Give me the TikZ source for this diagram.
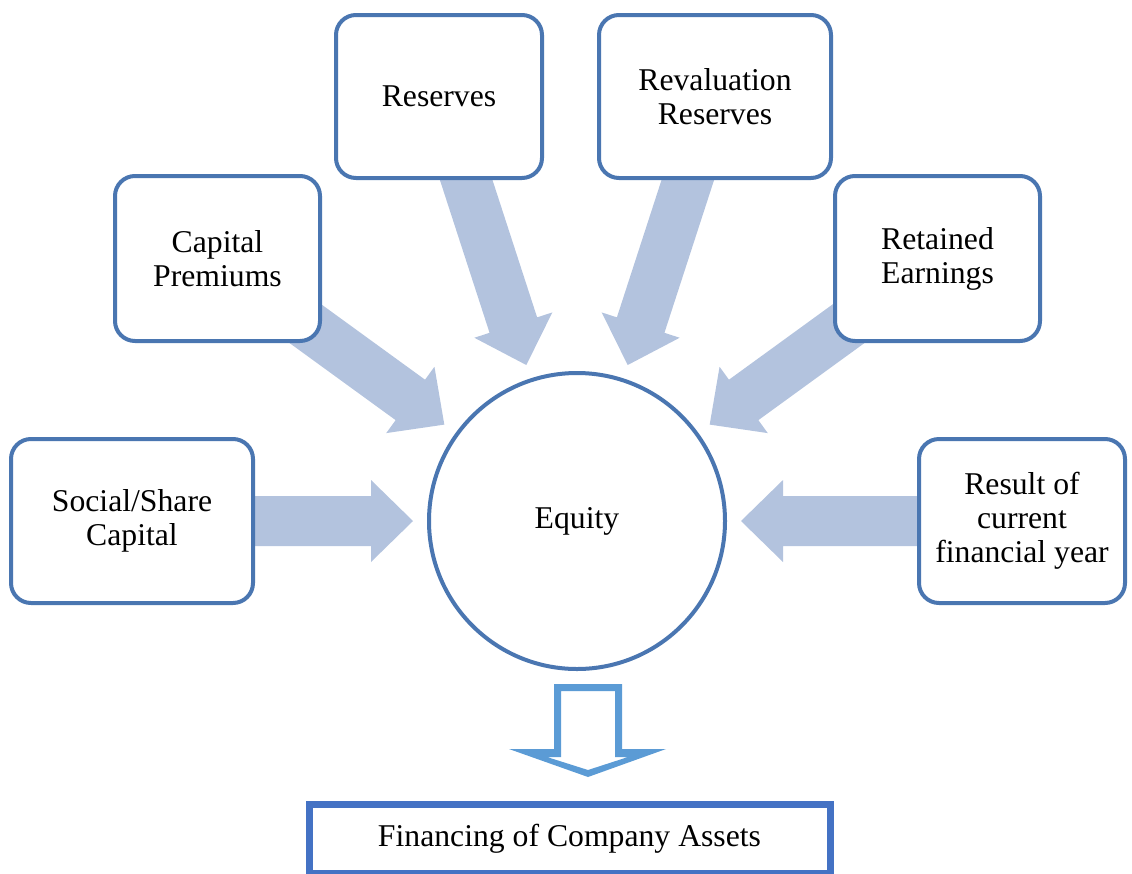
\documentclass[tikz,border=0pt]{standalone}
\usepackage{fontspec}
\setmainfont{Liberation Serif}
\definecolor{boxblue}{HTML}{4A76B1}
\definecolor{arrowfill}{HTML}{B3C3DE}
\definecolor{outblue}{HTML}{5B9BD5}
\definecolor{finblue}{HTML}{4472C4}
\tikzset{
  txt/.style={font=\fontsize{31.7}{34}\selectfont, align=center, inner sep=0pt},
  card/.style={txt, draw=boxblue, line width=4pt, fill=white, rounded corners=20pt},
  hub/.style={txt, circle, draw=boxblue, line width=4pt, fill=white, minimum size=296pt},
  finbox/.style={txt, draw=finblue, line width=7pt, fill=white},
  feed/.style={fill=arrowfill},
  outarrow/.style={fill=outblue, even odd rule}
}
\newcommand{\radarrow}[1]{%
  \fill[feed, shift={(ctr)}, rotate=#1] (164,0) -- (206,41) -- (206,25) -- (385,25)
    -- (385,-25) -- (206,-25) -- (206,-41) -- cycle;}
\begin{document}
\begin{tikzpicture}[x=1pt, y=1pt]
  \useasboundingbox (0,0) rectangle (1132,-873);
  \begin{scope}
  \clip (0,0) rectangle (1132,-873);
  \coordinate (ctr) at (577,-521);
  % feeding block arrows
  \radarrow{180}
  \radarrow{144}
  \radarrow{108}
  \radarrow{72}
  \radarrow{36}
  \radarrow{0}
  % boxes
  \node[card, minimum width=242pt, minimum height=164pt] (soc) at (132,-521) {Social/Share\\Capital};
  \node[card, minimum width=205pt, minimum height=165pt] (prem) at (217.5,-258.5) {Capital\\Premiums};
  \node[card, minimum width=206pt, minimum height=163pt] (res) at (439,-96.5) {Reserves};
  \node[card, minimum width=232pt, minimum height=163pt] (reval) at (715,-96.5) {Revaluation\\Reserves};
  \node[card, minimum width=205pt, minimum height=165pt] (ret) at (937.5,-258.5) {Retained\\Earnings};
  \node[card, minimum width=206pt, minimum height=164pt] (result) at (1022,-521) {Result of\\current\\financial year};
  \node[hub] (eq) at (ctr) {Equity};
  % outlined down arrow
  \fill[outarrow]
    (554,-684) -- (622,-684) -- (622,-749) -- (666,-749) -- (588,-777) -- (509,-749) -- (554,-749) -- cycle
    (561,-691) -- (615,-691) -- (615,-757) -- (628,-757) -- (588,-770) -- (547,-757) -- (561,-757) -- cycle;
  % bottom box
  \node[finbox, minimum width=521pt, minimum height=69pt] (fin) at (569.5,-838.5) {Financing of Company Assets};
  \end{scope}
\end{tikzpicture}
\end{document}
